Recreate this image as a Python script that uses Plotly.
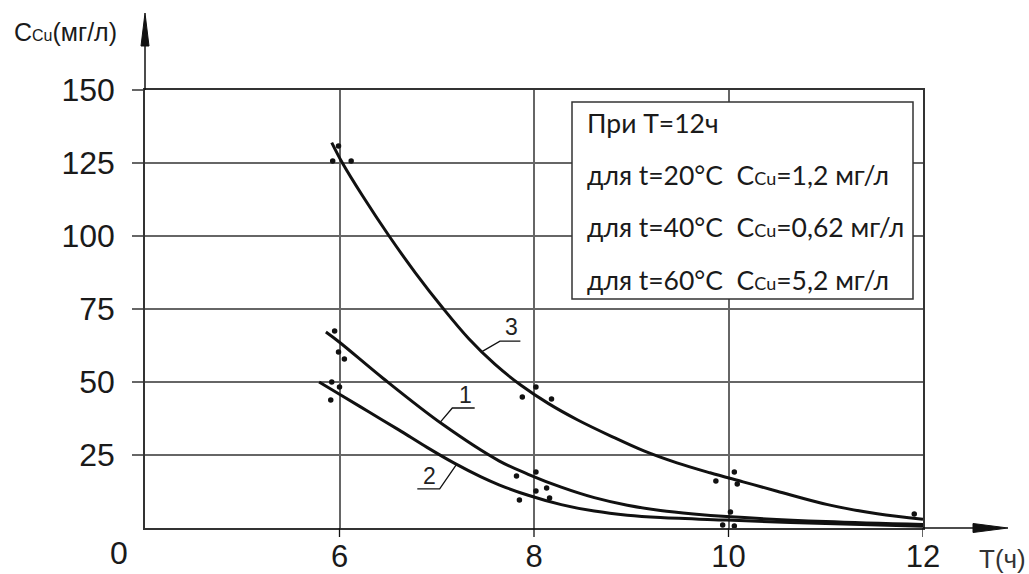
import plotly.graph_objects as go

# ---------------- data ----------------
# fitted curves: T (h) vs C_Cu (mg/l)
curve1_t = [5.86, 6.00, 6.45, 7.06, 7.64, 7.94, 8.28, 8.62, 8.96, 9.30, 9.64, 9.98, 11.0, 12.0]
curve1_c = [67.1, 63.6, 51.2, 35.5, 23.0, 18.4, 14.0, 10.4, 7.8, 6.0, 4.8, 3.9, 2.2, 1.2]

curve2_t = [5.79, 6.00, 6.30, 6.61, 6.90, 7.18, 7.45, 7.64, 7.94, 8.28, 8.62, 8.96, 9.30, 9.98, 11.0, 12.0]
curve2_c = [50.0, 45.8, 39.8, 33.6, 27.6, 22.2, 17.6, 14.8, 11.2, 8.0, 5.8, 4.4, 3.6, 2.7, 1.5, 0.6]

curve3_t = [5.92, 6.03, 6.24, 6.51, 6.78, 7.07, 7.33, 7.60, 7.87, 8.15, 8.45, 8.79,
            9.13, 9.47, 9.81, 10.15, 10.50, 11.02, 11.53, 12.00]
curve3_c = [132.0, 125.0, 113.6, 100.0, 87.4, 75.0, 64.8, 56.0, 48.8, 42.6, 37.0, 31.5,
            26.4, 22.3, 18.9, 15.8, 12.6, 8.0, 4.9, 3.0]

# experimental points
pts_t = [5.99, 5.93, 6.12, 5.95, 5.99, 6.05, 5.92, 6.00, 5.91,
         8.02, 7.88, 8.18, 7.82, 8.02, 8.13, 8.02, 7.85, 8.16,
         10.06, 9.87, 10.09, 10.02, 9.94, 10.06,
         11.91, 12.04, 12.04]
pts_c = [130.8, 125.7, 125.7, 67.5, 60.3, 57.9, 50.0, 48.3, 43.8,
         48.3, 44.9, 44.2, 17.8, 19.2, 13.7, 12.7, 9.6, 10.3,
         19.2, 16.1, 15.1, 5.5, 1.0, 0.7,
         4.8, 3.4, 1.0]

x_ticks = [6, 8, 10, 12]
y_ticks = [25, 50, 75, 100, 125, 150]
curve_labels = ["1", "2", "3"]
box_lines = [
    "При T=12ч",
    "для t=20°C  C<span style='font-size:18px'>Cu</span>=1,2 мг/л",
    "для t=40°C  C<span style='font-size:18px'>Cu</span>=0,62 мг/л",
    "для t=60°C  C<span style='font-size:18px'>Cu</span>=5,2 мг/л",
]
y_title = "C<span style='font-size:16px'>Cu</span>(мг/л)"
x_title = "T(ч)"

# ---------------- figure ----------------
LINE = "#111111"
GRID = "#666666"
ARIAL = "Liberation Sans, Arial, sans-serif"
TICKFONT = dict(family=ARIAL, size=32, color="#1a1a1a")

fig = go.Figure()
for tx, cy in [(curve1_t, curve1_c), (curve2_t, curve2_c), (curve3_t, curve3_c)]:
    fig.add_trace(go.Scatter(x=tx, y=cy, mode="lines",
                             line=dict(color=LINE, width=3, shape="spline", smoothing=1.0),
                             showlegend=False, hoverinfo="skip"))
fig.add_trace(go.Scatter(x=pts_t, y=pts_c, mode="markers",
                         marker=dict(color=LINE, size=5.5, symbol="circle"),
                         showlegend=False, cliponaxis=False))

L, R, T, B = 145, 106, 90, 46
W, H = 1029, 574
PW, PH = W - L - R, H - T - B


def px(xp):
    return (xp - L) / PW


def py(yp):
    return (H - B - yp) / PH


shapes = []
# x tick marks (below the axis)
for v in x_ticks:
    shapes.append(dict(type="line", xref="x", yref="paper", x0=v, x1=v, y0=0, y1=py(H - B + 9),
                       line=dict(color=LINE, width=1.3)))
# y axis arrow extension + head
shapes.append(dict(type="line", xref="paper", yref="paper", x0=0, x1=0, y0=1, y1=py(40),
                   line=dict(color=LINE, width=1.5)))
shapes.append(dict(type="path", xref="paper", yref="paper",
                   path=f"M {px(L)} {py(13)} L {px(L-4)} {py(46)} L {px(L+4)} {py(46)} Z",
                   fillcolor=LINE, line=dict(color=LINE, width=1)))
# x axis arrow extension + head
shapes.append(dict(type="line", xref="paper", yref="paper", x0=1, x1=px(978), y0=0, y1=0,
                   line=dict(color=LINE, width=1.5)))
shapes.append(dict(type="path", xref="paper", yref="paper",
                   path=f"M {px(1008)} {py(H-B)} L {px(973)} {py(H-B-4.5)} L {px(973)} {py(H-B+4.5)} Z",
                   fillcolor=LINE, line=dict(color=LINE, width=1)))
# info box
shapes.append(dict(type="rect", xref="paper", yref="paper",
                   x0=px(572), x1=px(913), y0=py(299), y1=py(102),
                   fillcolor="white", line=dict(color="#333333", width=1.5), layer="above"))
# leader lines for curve labels (data coords)
leaders = [
    [(7.03, 36.0), (7.16, 41.1), (7.39, 41.1)],   # 1
    [(7.20, 21.6), (7.03, 13.4), (6.80, 13.4)],   # 2
    [(7.46, 60.3), (7.65, 64.0), (7.86, 64.0)],   # 3
]
for pts in leaders:
    path = "M " + " L ".join(f"{a} {b}" for a, b in pts)
    shapes.append(dict(type="path", xref="x", yref="y", path=path,
                       line=dict(color=LINE, width=1.3)))

annotations = []
label_pos = [(7.30, 45.6), (6.93, 17.8), (7.77, 68.8)]
for lab, (lx, ly) in zip(curve_labels, label_pos):
    annotations.append(dict(x=lx, y=ly, xref="x", yref="y", text=lab, showarrow=False,
                            xanchor="center", yanchor="middle",
                            font=dict(family=ARIAL, size=23, color="#222222")))
for line_txt, yp in zip(box_lines, [123, 175, 227, 280]):
    annotations.append(dict(x=px(585), y=py(yp), xref="paper", yref="paper", text=line_txt,
                            showarrow=False, xanchor="left", yanchor="middle",
                            font=dict(family="Lato, Open Sans, sans-serif", size=26.5, color="#1a1a1a")))
annotations.append(dict(x=px(12), y=py(32), xref="paper", yref="paper", text=y_title,
                        showarrow=False, xanchor="left", yanchor="middle",
                        font=dict(family=ARIAL, size=25, color="#1a1a1a")))
annotations.append(dict(x=px(119), y=py(553), xref="paper", yref="paper", text="0",
                        showarrow=False, xanchor="center", yanchor="middle", font=TICKFONT))
annotations.append(dict(x=px(977), y=py(559), xref="paper", yref="paper", text=x_title,
                        showarrow=False, xanchor="left", yanchor="middle",
                        font=dict(family=ARIAL, size=26, color="#333333")))

fig.update_layout(
    width=W, height=H,
    margin=dict(l=L, r=R, t=T, b=B),
    plot_bgcolor="white", paper_bgcolor="white",
    shapes=shapes, annotations=annotations,
    showlegend=False,
    xaxis=dict(range=[4, 12], tickvals=x_ticks, ticktext=[str(v) for v in x_ticks],
               ticks="", showgrid=True, gridcolor=GRID, gridwidth=1.5,
               showline=True, linecolor="#333333", linewidth=1.5, mirror=True,
               zeroline=False, tickfont=dict(family=ARIAL, size=31, color="#1a1a1a"),
               automargin=False, fixedrange=True, ticklabelstandoff=0),
    yaxis=dict(range=[0, 150], tickvals=y_ticks, ticktext=[str(v) for v in y_ticks],
               ticks="outside", ticklen=11, tickcolor=GRID, tickwidth=1.5,
               showgrid=True, gridcolor=GRID, gridwidth=1.5,
               showline=True, linecolor="#333333", linewidth=1.5, mirror=True,
               zeroline=False, tickfont=TICKFONT, automargin=False, fixedrange=True,
               ticklabelstandoff=11),
)

fig.write_html("out.html")
